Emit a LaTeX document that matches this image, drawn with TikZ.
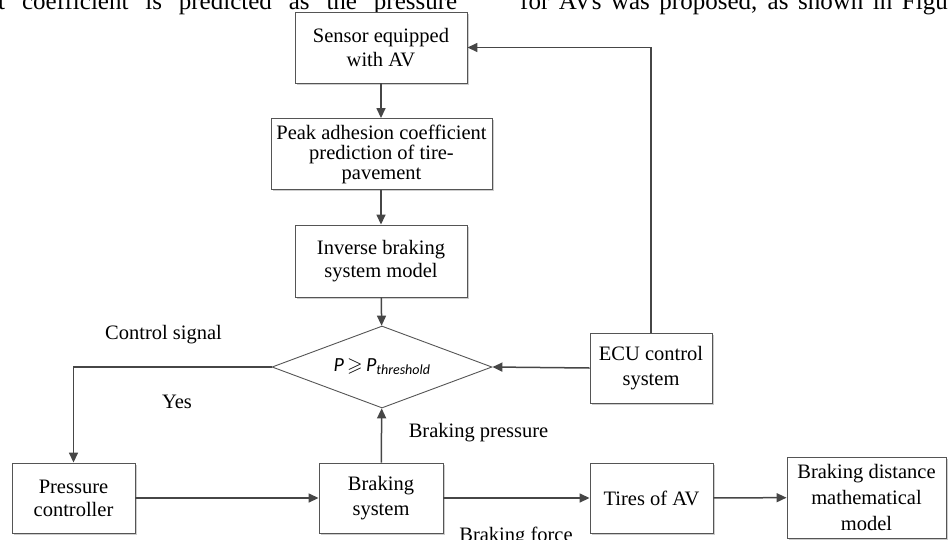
\documentclass[tikz,border=0pt]{standalone}
\usepackage{fontspec}
\setmainfont{Liberation Serif}
\newfontfamily\calfont{Carlito}
\usepackage{amssymb}
\usepackage{tikz}
\usetikzlibrary{shapes.geometric, arrows.meta, positioning, calc, shadows}
\definecolor{mygray}{RGB}{70,70,70}
\definecolor{myedge}{RGB}{85,85,85}
\definecolor{myshadow}{RGB}{205,205,205}
\tikzset{
  block/.style={rectangle, draw=myedge, fill=white, align=center, inner sep=0pt,
    font=\fontsize{20.5}{24}\selectfont, line width=0.9pt,
    drop shadow={shadow xshift=1.5pt, shadow yshift=-1.5pt, fill=myshadow, opacity=1}},
  decision/.style={diamond, draw=myedge, fill=white, aspect=2.68, inner sep=0pt,
    minimum width=220pt, minimum height=82pt, line width=0.9pt},
  arrow/.style={-{Triangle[length=10pt,width=9pt]}, line width=1.5pt, color=mygray},
  line/.style={line width=1.5pt, color=mygray},
  lbl/.style={font=\fontsize{20.5}{24}\selectfont, inner sep=0pt},
  paper/.style={anchor=base west, inner sep=0pt, font=\fontsize{25}{29}\selectfont}
}

\begin{document}
\begin{tikzpicture}[x=1pt, y=-1pt]
  \useasboundingbox (0,0) rectangle (948,539);
  \clip (0,0) rectangle (948,539);

  \node[paper] (t1) at (-2,9) {\makebox[459pt][s]{t coefficient is predicted as the pressure}};
  \node[paper] (t2) at (520,9) {\makebox[447pt][s]{for AVs was proposed, as shown in Figure}};

  \node[block, minimum width=172pt, minimum height=71pt] (c1) at (381,47.5) {Sensor equipped\\with AV};
  \node[block, minimum width=221pt, minimum height=71pt, font=\fontsize{20.5}{20}\selectfont] (c2) at (381.5,154)
    {Peak adhesion coefficient\\prediction of tire-\\pavement};
  \node[block, minimum width=172pt, minimum height=72pt, font=\fontsize{20.5}{23}\selectfont] (c3) at (381,261)
    {Inverse braking\\system model};
  \node[decision] (dec) at (382,367)
    {\calfont\fontsize{20}{24}\selectfont\itshape P\,{\normalfont$\geqslant$}\,P\textsubscript{threshold}};
  \node[block, minimum width=122pt, minimum height=70pt, font=\fontsize{20.5}{25}\selectfont] (c4) at (651,368)
    {ECU control\\system};
  \node[block, minimum width=123pt, minimum height=70pt, font=\fontsize{20.5}{23}\selectfont] (c5) at (73.5,498)
    {Pressure\\controller};
  \node[block, minimum width=124pt, minimum height=70pt, font=\fontsize{20.5}{25}\selectfont] (c6) at (381,498)
    {Braking\\system};
  \node[block, minimum width=123pt, minimum height=70pt] (c7) at (651.5,498) {Tires of AV};
  \node[block, minimum width=159pt, minimum height=81pt, font=\fontsize{20.5}{26}\selectfont] (c8) at (866.5,497.5)
    {Braking distance\\mathematical\\model};

  \node[lbl] (l1) at (163.5,335) {Control signal};
  \node[lbl] (l2) at (177,402) {Yes};
  \node[lbl] (l3) at (478.5,433) {Braking pressure};
  \node[lbl, anchor=base] (l4) at (516,541) {Braking force};

  \draw[arrow] (c1.south) -- (c1.south |- c2.north);
  \draw[arrow] (c2.south -| c1.south) -- (c1.south |- c3.north);
  \draw[arrow] (c3) -- (dec);
  \draw[arrow] (c4.west) -- (dec.east);
  \draw[arrow] (c4.north) |- (c1.east);
  \draw[arrow] (dec.west) -| (c5.north);
  \draw[arrow] (c5) -- (c6);
  \draw[arrow] (c6) -- (dec);
  \draw[arrow] (c6) -- (c7);
  \draw[arrow] (c7) -- (c8);
\end{tikzpicture}
\end{document}
